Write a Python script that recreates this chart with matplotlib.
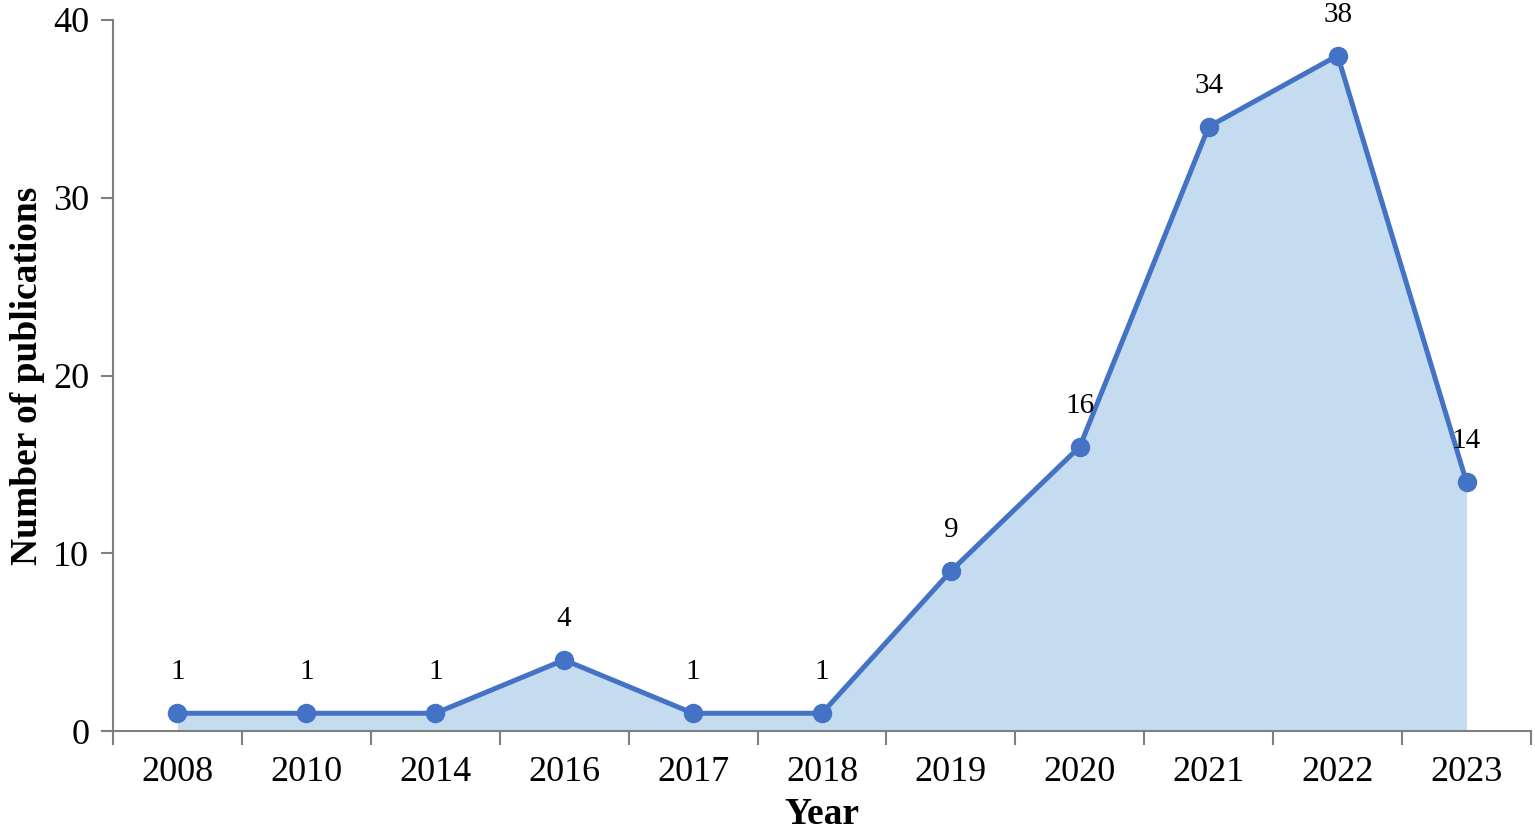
import numpy as np
import matplotlib.pyplot as plt

years = ['2008', '2010', '2014', '2016', '2017', '2018', '2019', '2020', '2021', '2022', '2023']
counts = [1, 1, 1, 4, 1, 1, 9, 16, 34, 38, 14]

plt.rcParams['font.family'] = ['Liberation Serif', 'DejaVu Serif']

fig = plt.figure(figsize=(15.35, 8.33), dpi=100)
ax = fig.add_axes([0.0736, 0.1224, 0.9238, 0.8536])

x = np.arange(len(years))
ax.fill_between(x, counts, 0, color='#c5dcf0', linewidth=0)
ax.plot(x, counts, color='#4472c4', linewidth=3.6, marker='o', markersize=13)

for xi, v in zip(x, counts):
    ax.annotate(str(v), (xi, v), xytext=(0, 20), textcoords='offset points',
                ha='center', va='bottom', fontsize=21)

ax.set_xlim(-0.5, len(years) - 0.5)
ax.set_ylim(0, 40)
ax.set_yticks([0, 10, 20, 30, 40])
ax.set_xticks(x)
ax.set_xticklabels(years)
ax.set_xticks(np.arange(-0.5, len(years)), minor=True)
ax.tick_params(axis='x', which='major', length=0, labelsize=26, pad=18)
ax.tick_params(axis='x', which='minor', length=10, width=1.5, color='#7f7f7f')
ax.tick_params(axis='y', length=9, width=1.5, color='#7f7f7f', labelsize=26, pad=8)

for s in ['top', 'right']:
    ax.spines[s].set_visible(False)
for s in ['left', 'bottom']:
    ax.spines[s].set_color('#7f7f7f')
    ax.spines[s].set_linewidth(1.5)

ax.set_xlabel('Year', fontsize=27, fontweight='bold', labelpad=6)
ax.set_ylabel('Number of publications', fontsize=27, fontweight='bold', labelpad=6)

fig.savefig('out.png', dpi=100)
